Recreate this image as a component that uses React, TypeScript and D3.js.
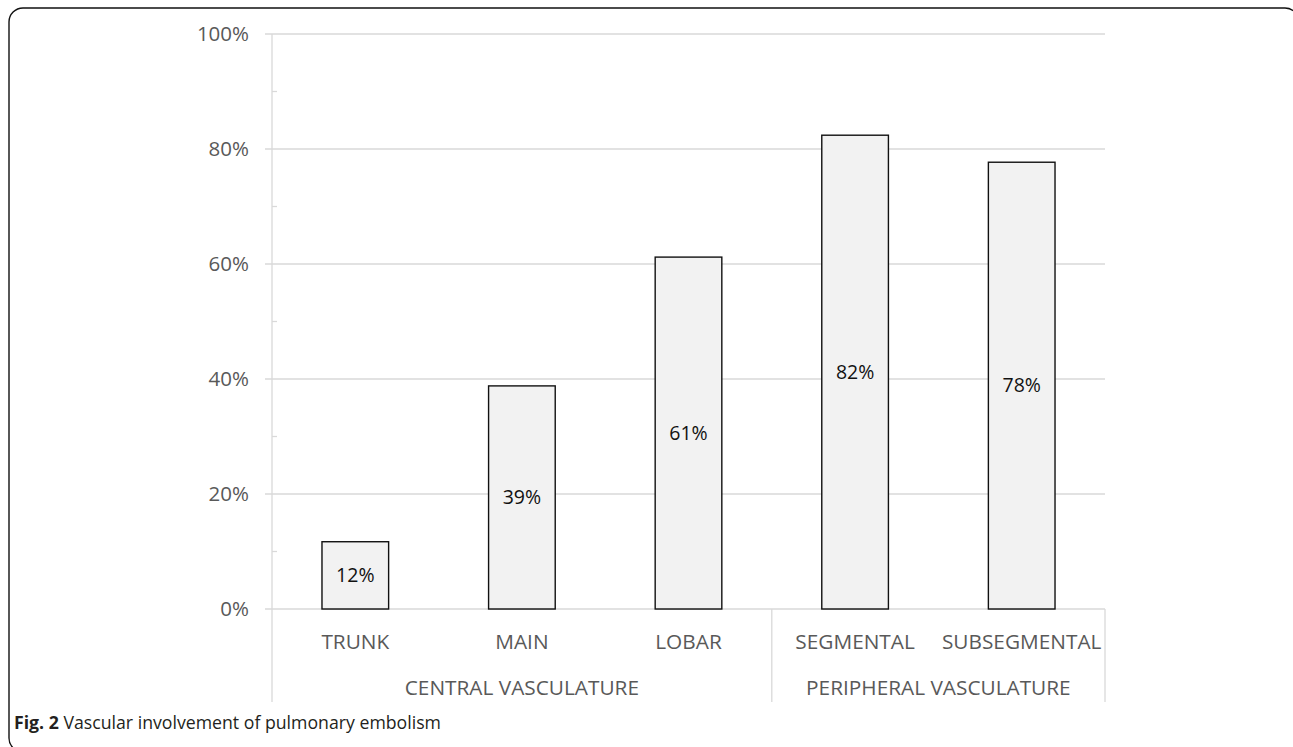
import React from "react";
import * as d3 from "d3";

const categories = ["TRUNK", "MAIN", "LOBAR", "SEGMENTAL", "SUBSEGMENTAL"];
const values = [11.7, 38.8, 61.2, 82.4, 77.7];
const valueLabels = ["12%", "39%", "61%", "82%", "78%"];
const groups = [
  { name: "CENTRAL VASCULATURE", from: 0, to: 2 },
  { name: "PERIPHERAL VASCULATURE", from: 3, to: 4 },
];
const majorTicks = [0, 20, 40, 60, 80, 100];
const minorTicks = [10, 30, 50, 70, 90];

const W = 1293;
const H = 747;
const left = 272;
const right = 1105;
const top = 34;
const bottom = 609;
const catAxisBottom = 702;

export default function App() {
  const x = d3.scaleBand<string>().domain(categories).range([left, right]).paddingInner(0.6).paddingOuter(0.3);
  const y = d3.scaleLinear().domain([0, 100]).range([bottom, top]);
  const step = x.step();
  const bw = x.bandwidth();
  const boundary = (i: number) => (x(categories[i]) as number) - (step - bw) / 2;
  const font = "'Open Sans', sans-serif";
  const gray = "#595959";

  return (
    <svg width={W} height={H} style={{ position: "absolute", left: 0, top: 0, display: "block" }}>
      <rect x={0} y={0} width={W} height={H} fill="#fff" />
      <rect x={9} y={8} width={1290} height={744} rx={14} ry={14} fill="none" stroke="#111" strokeWidth={1.4} />
      {/* gridlines */}
      {majorTicks.map((t) => (
        <line key={"g" + t} x1={left - 7} x2={right} y1={y(t)} y2={y(t)} stroke="#d9d9d9" strokeWidth={1.3} />
      ))}
      {minorTicks.map((t) => (
        <line key={"m" + t} x1={left} x2={left + 5} y1={y(t)} y2={y(t)} stroke="#d9d9d9" strokeWidth={1.3} />
      ))}
      {/* y axis line + category separators */}
      <line x1={left} x2={left} y1={top} y2={catAxisBottom} stroke="#d9d9d9" strokeWidth={1.3} />
      {groups.slice(1).map((g) => (
        <line key={"s" + g.name} x1={boundary(g.from)} x2={boundary(g.from)} y1={bottom} y2={catAxisBottom} stroke="#d9d9d9" strokeWidth={1.3} />
      ))}
      <line x1={right} x2={right} y1={bottom} y2={catAxisBottom} stroke="#d9d9d9" strokeWidth={1.3} />
      {/* y tick labels */}
      {majorTicks.map((t) => (
        <text key={"t" + t} x={249} y={y(t)} dy="0.35em" textAnchor="end" fontFamily={font} fontSize={20.5} fill={gray}>
          {t + "%"}
        </text>
      ))}
      {/* bars */}
      {categories.map((c, i) => (
        <rect key={c} x={x(c)} y={y(values[i])} width={bw} height={y(0) - y(values[i])} fill="#f2f2f2" stroke="#111" strokeWidth={1.4} />
      ))}
      {categories.map((c, i) => (
        <text key={"l" + c} x={(x(c) as number) + bw / 2} y={(y(values[i]) + y(0)) / 2} dy="0.35em" textAnchor="middle" fontFamily={font} fontSize={19.5} fill="#111">
          {valueLabels[i]}
        </text>
      ))}
      {/* category labels */}
      {categories.map((c) => (
        <text key={"c" + c} x={(x(c) as number) + bw / 2} y={642} dy="0.35em" textAnchor="middle" fontFamily={font} fontSize={20.8} fill={gray}>
          {c}
        </text>
      ))}
      {groups.map((g) => {
        const x0 = boundary(g.from);
        const x1 = boundary(g.to) + step;
        return (
          <text key={g.name} x={(x0 + x1) / 2} y={688} dy="0.35em" textAnchor="middle" fontFamily={font} fontSize={20.8} fill={gray}>
            {g.name}
          </text>
        );
      })}
      {/* caption */}
      <text x={14} y={729} fontFamily={font} fontSize={17.7} fill="#231f20">
        <tspan fontWeight="bold">Fig. 2</tspan>
        <tspan> Vascular involvement of pulmonary embolism</tspan>
      </text>
    </svg>
  );
}
